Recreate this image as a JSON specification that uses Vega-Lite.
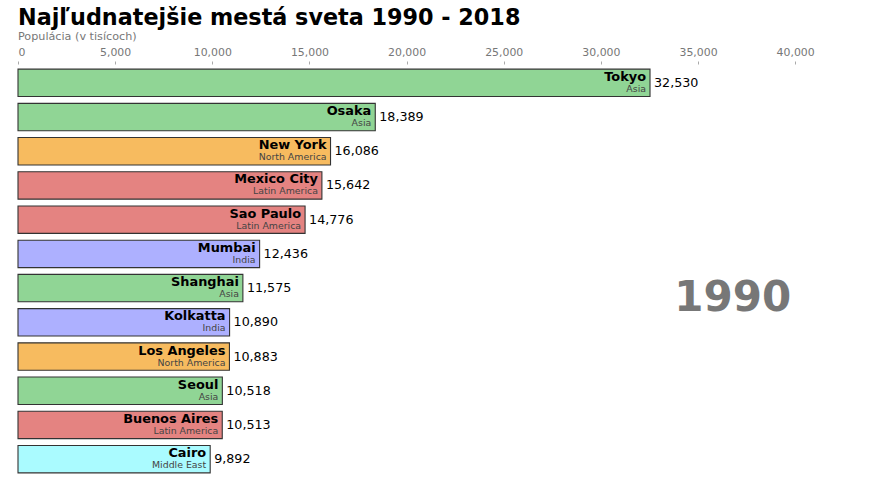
{
  "$schema": "https://vega.github.io/schema/vega-lite/v6.json",
  "width": 816,
  "height": 414,
  "autosize": "none",
  "padding": {"left": 18, "top": 64, "right": 38, "bottom": 3},
  "background": "white",
  "config": {"view": {"stroke": null}, "font": "DejaVu Sans"},
  "title": {
    "text": "Najľudnatejšie mestá sveta 1990 - 2018",
    "subtitle": "Populácia (v tisícoch)",
    "anchor": "start",
    "frame": "group",
    "font": "DejaVu Sans",
    "fontSize": 22.3,
    "fontWeight": "bold",
    "color": "#000000",
    "subtitleFont": "DejaVu Sans",
    "subtitleFontSize": 11.2,
    "subtitleColor": "#777777",
    "subtitlePadding": 2,
    "offset": 4
  },
  "data": {
    "values": [
      {"city": "Tokyo", "region": "Asia", "value": 32530},
      {"city": "Osaka", "region": "Asia", "value": 18389},
      {"city": "New York", "region": "North America", "value": 16086},
      {"city": "Mexico City", "region": "Latin America", "value": 15642},
      {"city": "Sao Paulo", "region": "Latin America", "value": 14776},
      {"city": "Mumbai", "region": "India", "value": 12436},
      {"city": "Shanghai", "region": "Asia", "value": 11575},
      {"city": "Kolkatta", "region": "India", "value": 10890},
      {"city": "Los Angeles", "region": "North America", "value": 10883},
      {"city": "Seoul", "region": "Asia", "value": 10518},
      {"city": "Buenos Aires", "region": "Latin America", "value": 10513},
      {"city": "Cairo", "region": "Middle East", "value": 9892}
    ]
  },
  "encoding": {
    "y": {
      "field": "city",
      "type": "nominal",
      "sort": null,
      "scale": {
        "domain": ["Tokyo", "Osaka", "New York", "Mexico City", "Sao Paulo", "Mumbai", "Shanghai", "Kolkatta", "Los Angeles", "Seoul", "Buenos Aires", "Cairo"],
        "paddingInner": 0.2,
        "paddingOuter": 0.15
      },
      "axis": null
    },
    "x": {
      "field": "value",
      "type": "quantitative",
      "scale": {"domain": [0, 42000], "nice": false},
      "axis": {
        "orient": "top",
        "title": null,
        "values": [0, 5000, 10000, 15000, 20000, 25000, 30000, 35000, 40000],
        "format": ",.0f",
        "grid": false,
        "domain": false,
        "tickSize": 3,
        "tickColor": "#aaaaaa",
        "labelColor": "#777777",
        "labelFontSize": 10.9,
        "labelFont": "DejaVu Sans",
        "labelPadding": 4
      }
    }
  },
  "layer": [
    {
      "mark": {"type": "bar", "stroke": "#333333", "strokeWidth": 1.1},
      "encoding": {
        "color": {
          "field": "region",
          "type": "nominal",
          "scale": {
            "domain": ["India", "Europe", "Asia", "Latin America", "Middle East", "North America", "Africa"],
            "range": ["#adb0ff", "#ffb3ff", "#90d595", "#e48381", "#aafbff", "#f7bb5f", "#eafb50"]
          },
          "legend": null
        }
      }
    },
    {
      "mark": {"type": "text", "align": "right", "baseline": "bottom", "dx": -4, "dy": 1, "fontSize": 12.9, "fontWeight": "bold", "color": "#000000"},
      "encoding": {"text": {"field": "city"}}
    },
    {
      "mark": {"type": "text", "align": "right", "baseline": "alphabetic", "dx": -4, "dy": 9, "fontSize": 9.4, "color": "#444444"},
      "encoding": {"text": {"field": "region"}}
    },
    {
      "mark": {"type": "text", "align": "left", "baseline": "middle", "dx": 4, "fontSize": 12.7, "color": "#000000"},
      "encoding": {"text": {"field": "value", "format": ",.0f"}}
    },
    {
      "data": {"values": [{"year": "1990", "pos": 39800, "row": "Kolkatta"}]},
      "mark": {"type": "text", "align": "right", "baseline": "middle", "dy": -24, "fontSize": 42, "fontWeight": "bold", "color": "#777777"},
      "encoding": {
        "x": {"field": "pos", "type": "quantitative"},
        "y": {"field": "row", "type": "nominal"},
        "text": {"field": "year"}
      }
    }
  ]
}
